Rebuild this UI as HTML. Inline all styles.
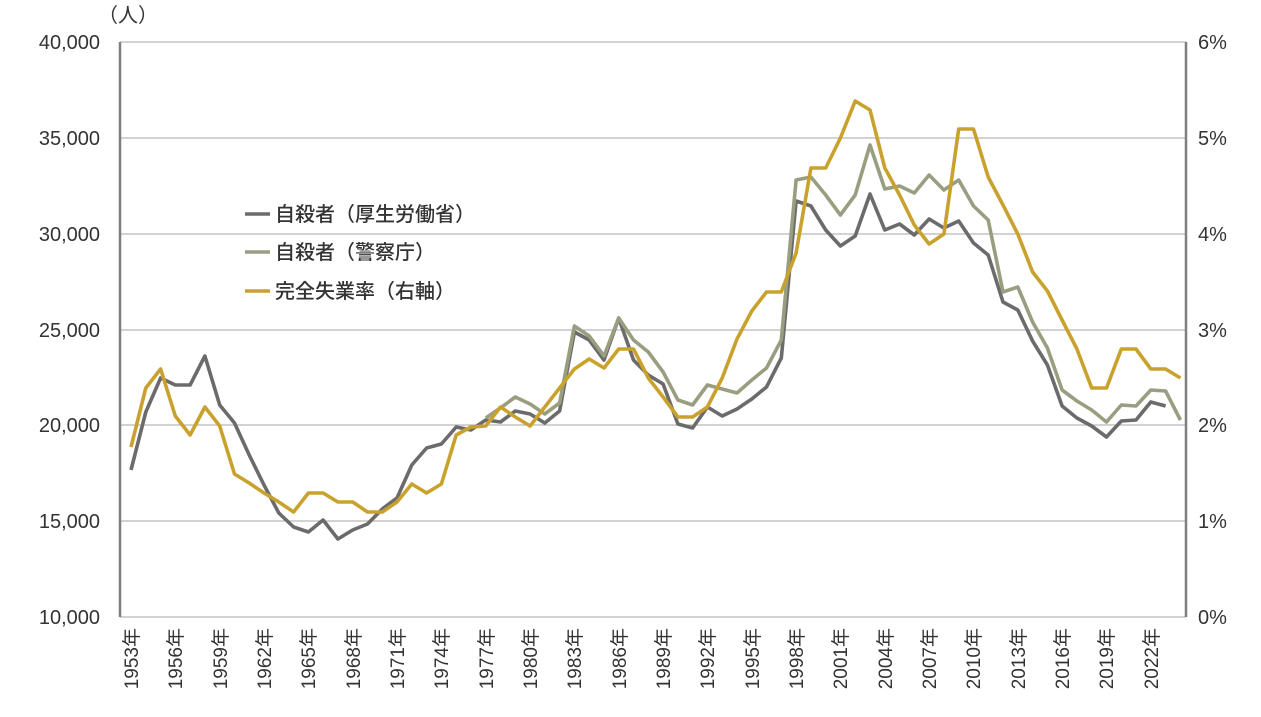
<!DOCTYPE html>
<html><head><meta charset="utf-8"><style>
html,body{margin:0;padding:0;background:#fff;}
svg{display:block;font-family:"Liberation Sans","Noto Sans CJK JP",sans-serif;}
</style></head><body>
<svg id="c" width="1261" height="717" viewBox="0 0 1261 717" xmlns="http://www.w3.org/2000/svg">
<g stroke="#a6a6a6" stroke-width="1">
<line x1="120" y1="42" x2="1186" y2="42"/><line x1="120" y1="138" x2="1186" y2="138"/>
<line x1="120" y1="234" x2="1186" y2="234"/><line x1="120" y1="330" x2="1186" y2="330"/>
<line x1="120" y1="425" x2="1186" y2="425"/><line x1="120" y1="521" x2="1186" y2="521"/>
<line x1="120" y1="617" x2="1186" y2="617"/>
</g>
<g stroke="#7f7f7f" stroke-width="2.5">
<line x1="120" y1="42" x2="120" y2="617"/><line x1="1186" y1="42" x2="1186" y2="617"/>
</g>
<g fill="#333" font-size="20" text-anchor="end">
<text x="100" y="49">40,000</text><text x="100" y="145">35,000</text><text x="100" y="241">30,000</text>
<text x="100" y="337">25,000</text><text x="100" y="432">20,000</text><text x="100" y="528">15,000</text>
<text x="100" y="624">10,000</text>
</g>
<g fill="#333" font-size="20">
<text x="1198" y="49">6%</text><text x="1198" y="145">5%</text><text x="1198" y="241">4%</text>
<text x="1198" y="337">3%</text><text x="1198" y="432">2%</text><text x="1198" y="528">1%</text>
<text x="1198" y="624">0%</text>
<text x="98" y="22">（人）</text>
</g>
<g id="xl" fill="#333" font-size="19" text-anchor="end">
<text transform="translate(138,628) rotate(-90)">1953年</text>
<text transform="translate(182,628) rotate(-90)">1956年</text>
<text transform="translate(227,628) rotate(-90)">1959年</text>
<text transform="translate(271,628) rotate(-90)">1962年</text>
<text transform="translate(315,628) rotate(-90)">1965年</text>
<text transform="translate(360,628) rotate(-90)">1968年</text>
<text transform="translate(404,628) rotate(-90)">1971年</text>
<text transform="translate(448,628) rotate(-90)">1974年</text>
<text transform="translate(493,628) rotate(-90)">1977年</text>
<text transform="translate(537,628) rotate(-90)">1980年</text>
<text transform="translate(581,628) rotate(-90)">1983年</text>
<text transform="translate(626,628) rotate(-90)">1986年</text>
<text transform="translate(670,628) rotate(-90)">1989年</text>
<text transform="translate(714,628) rotate(-90)">1992年</text>
<text transform="translate(759,628) rotate(-90)">1995年</text>
<text transform="translate(803,628) rotate(-90)">1998年</text>
<text transform="translate(847,628) rotate(-90)">2001年</text>
<text transform="translate(892,628) rotate(-90)">2004年</text>
<text transform="translate(936,628) rotate(-90)">2007年</text>
<text transform="translate(980,628) rotate(-90)">2010年</text>
<text transform="translate(1025,628) rotate(-90)">2013年</text>
<text transform="translate(1069,628) rotate(-90)">2016年</text>
<text transform="translate(1113,628) rotate(-90)">2019年</text>
<text transform="translate(1158,628) rotate(-90)">2022年</text>
</g>
<polyline id="pg" fill="none" stroke="#6b6b6b" stroke-width="3.6" stroke-linejoin="round"/>
<polyline id="po" fill="none" stroke="#9a9e80" stroke-width="3.6" stroke-linejoin="round"/>
<polyline id="pu" fill="none" stroke="#c9a22e" stroke-width="3.6" stroke-linejoin="round"/>
<g stroke-width="3.6">
<line x1="245" y1="214" x2="270" y2="214" stroke="#6b6b6b"/>
<line x1="245" y1="252" x2="270" y2="252" stroke="#9a9e80"/>
<line x1="245" y1="291" x2="270" y2="291" stroke="#c9a22e"/>
</g>
<g fill="#333" font-size="20" font-weight="500">
<text x="275" y="221">自殺者（厚生労働省）</text>
<text x="275" y="259">自殺者（警察庁）</text>
<text x="275" y="298">完全失業率（右軸）</text>
</g>
</svg>
<script>
var g=[470,412,378,385,385,356,405,423,455,485,513,527,532,520,539,530,524,509,498,465,448,444,427,430,420,422,411,414,423,411,332,340,360,318,360,375,384,424,428,407,416,409,399,387,358,201,206,230,246,236,194,230,224,235,219,228,221,243,255,302,310,341,365,406,418,426,437,421,420,402,406];
var o=[418,408,397,404,414,403,326,336,356,318,340,352,372,400,405,385,389,393,380,368,340,180,177,195,215,195,145,189,186,193,175,190,180,206,220,292,287,322,348,390,401,410,422,405,406,390,391,420];
var u=[447,388,369,416,435,407,426,474,483,493,502,512,493,493,502,502,512,512,502,484,493,484,435,427,426,407,417,426,407,388,369,359,368,349,349,378,397,417,417,407,378,339,311,292,292,253,168,168,138,101,110,168,195,225,244,234,129,129,177,205,234,272,291,320,349,388,388,349,349,369,369,378];
function X(i){return 131+i*14.78;}
function P(a,s){return a.map(function(v,i){return X(i+s).toFixed(1)+","+v}).join(" ");}
document.getElementById("pg").setAttribute("points",P(g,0));
document.getElementById("po").setAttribute("points",P(o,24));
document.getElementById("pu").setAttribute("points",P(u,0));
</script>
</body></html>
